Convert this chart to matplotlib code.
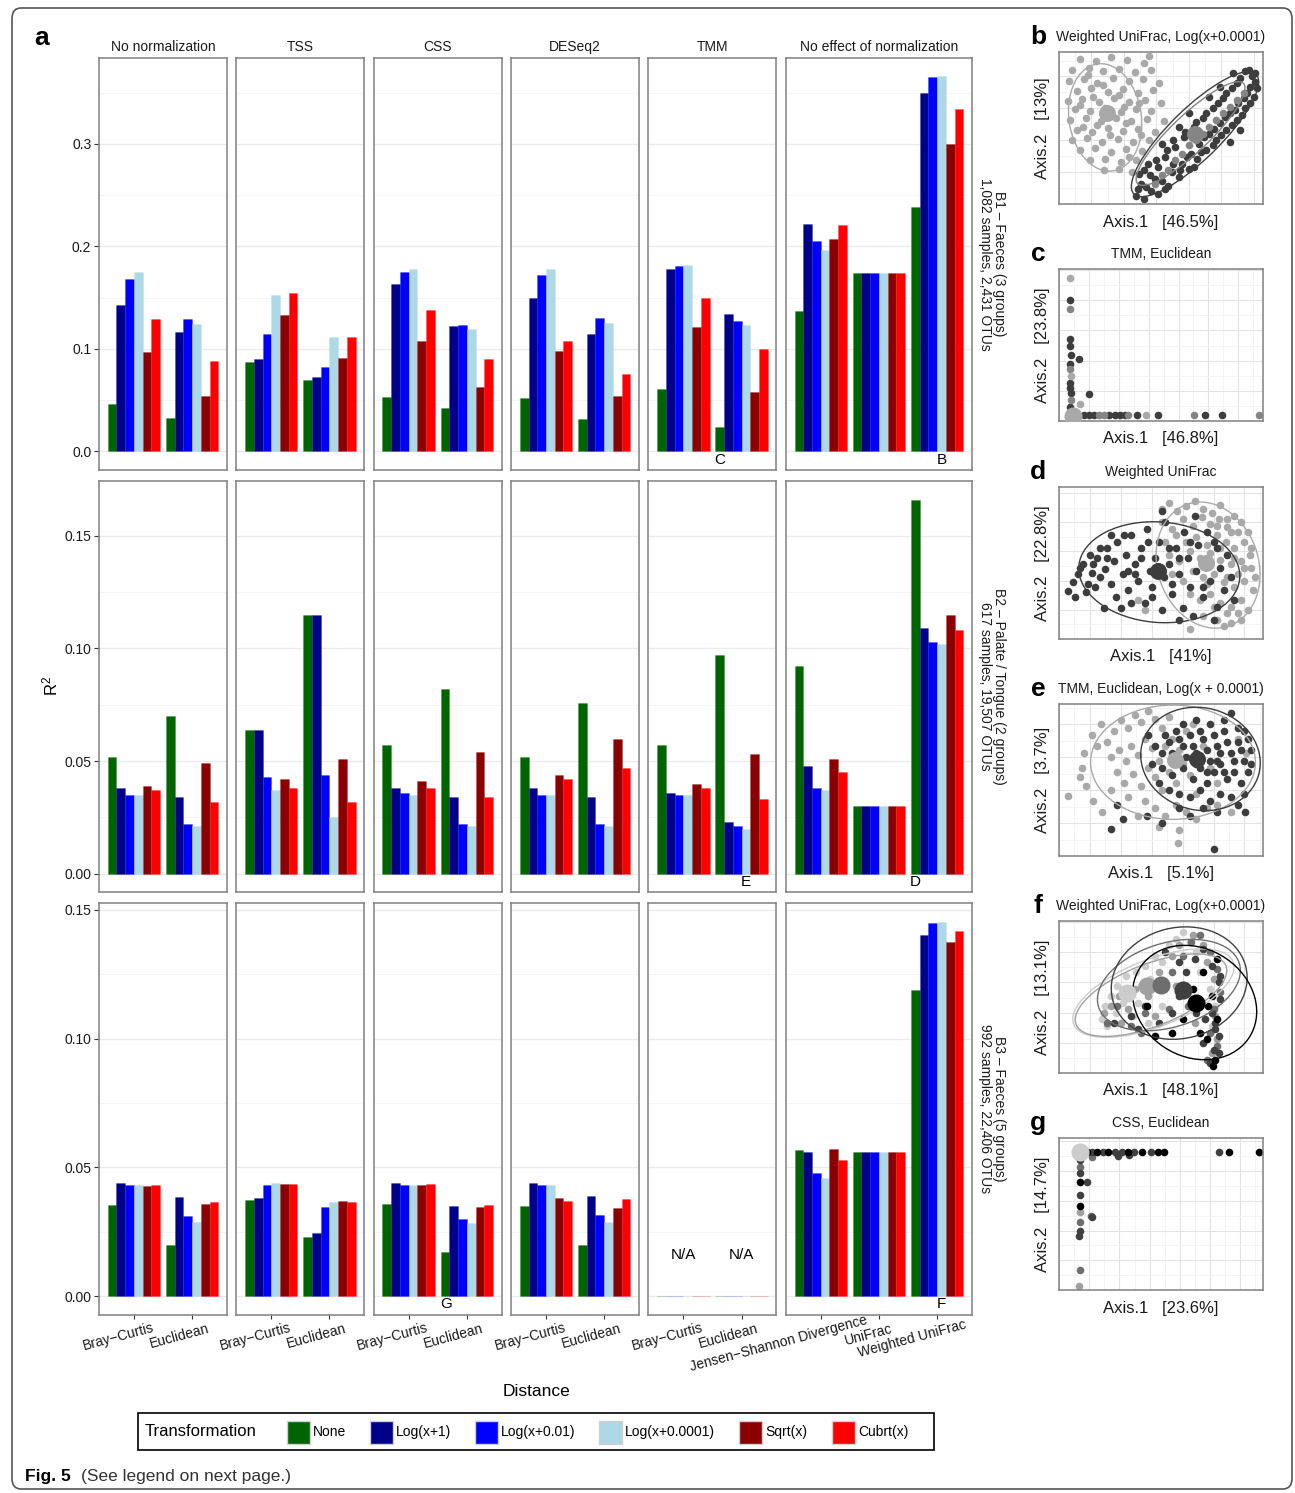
import numpy as np
import matplotlib
matplotlib.use('Agg')
import matplotlib.pyplot as plt
import matplotlib.colors as mcolors
import matplotlib.transforms as mtransforms
from matplotlib.patches import Ellipse, Rectangle, FancyBboxPatch
from matplotlib.ticker import FixedLocator, MultipleLocator

plt.rcParams['font.family'] = ['Liberation Sans', 'DejaVu Sans']
plt.rcParams['mathtext.default'] = 'regular'

W, H = 1295, 1493

# ---------------- data: panel a ----------------
transforms = ['None', 'Log(x+1)', 'Log(x+0.01)', 'Log(x+0.0001)', 'Sqrt(x)', 'Cubrt(x)']
trans_colors = ['#006400', '#00008b', '#0000ff', '#add8e6', '#8b0000', '#ff0000']
norm_names = ['No normalization', 'TSS', 'CSS', 'DESeq2', 'TMM', 'No effect of normalization']
dist_norm = ['Bray\u2212Curtis', 'Euclidean']
dist_fixed = ['Jensen\u2212Shannon Divergence', 'UniFrac', 'Weighted UniFrac']
row_labels = ['B1 \u2013 Faeces (3 groups)\n1,082 samples, 2,431 OTUs',
              'B2 \u2013 Palate / Tongue (2 groups)\n617 samples, 19,507 OTUs',
              'B3 \u2013 Faeces (5 groups)\n992 samples, 22,406 OTUs']

# one inner list per distance, values in transformation order
b1_none = [[0.046, 0.143, 0.168, 0.175, 0.097, 0.129], [0.032, 0.116, 0.129, 0.124, 0.054, 0.088]]
b1_tss = [[0.087, 0.090, 0.114, 0.153, 0.133, 0.154], [0.070, 0.072, 0.082, 0.112, 0.091, 0.112]]
b1_css = [[0.053, 0.163, 0.175, 0.178, 0.108, 0.138], [0.042, 0.122, 0.123, 0.119, 0.063, 0.090]]
b1_deseq = [[0.052, 0.150, 0.172, 0.178, 0.098, 0.108], [0.031, 0.114, 0.130, 0.125, 0.054, 0.075]]
b1_tmm = [[0.061, 0.178, 0.181, 0.182, 0.121, 0.150], [0.024, 0.134, 0.127, 0.123, 0.058, 0.100]]
b1_fixed = [[0.137, 0.222, 0.205, 0.196, 0.207, 0.221], [0.174, 0.174, 0.174, 0.174, 0.174, 0.174],
            [0.238, 0.350, 0.365, 0.366, 0.300, 0.334]]

b2_none = [[0.052, 0.038, 0.035, 0.035, 0.039, 0.037], [0.070, 0.034, 0.022, 0.021, 0.049, 0.032]]
b2_tss = [[0.064, 0.064, 0.043, 0.037, 0.042, 0.038], [0.115, 0.115, 0.044, 0.025, 0.051, 0.032]]
b2_css = [[0.057, 0.038, 0.036, 0.035, 0.041, 0.038], [0.082, 0.034, 0.022, 0.021, 0.054, 0.034]]
b2_deseq = [[0.052, 0.038, 0.035, 0.035, 0.044, 0.042], [0.076, 0.034, 0.022, 0.021, 0.060, 0.047]]
b2_tmm = [[0.057, 0.036, 0.035, 0.035, 0.040, 0.038], [0.097, 0.023, 0.021, 0.020, 0.053, 0.033]]
b2_fixed = [[0.092, 0.048, 0.038, 0.037, 0.051, 0.045], [0.030, 0.030, 0.030, 0.030, 0.030, 0.030],
            [0.166, 0.109, 0.103, 0.102, 0.115, 0.108]]

b3_none = [[0.0355, 0.0440, 0.0432, 0.0432, 0.0428, 0.0432], [0.0200, 0.0386, 0.0312, 0.0289, 0.0359, 0.0366]]
b3_tss = [[0.0374, 0.0382, 0.0432, 0.0440, 0.0436, 0.0436], [0.0231, 0.0246, 0.0347, 0.0366, 0.0370, 0.0366]]
b3_css = [[0.0359, 0.0440, 0.0432, 0.0432, 0.0432, 0.0436], [0.0173, 0.0351, 0.0300, 0.0285, 0.0347, 0.0355]]
b3_deseq = [[0.0351, 0.0440, 0.0432, 0.0432, 0.0382, 0.0370], [0.0200, 0.0389, 0.0316, 0.0289, 0.0343, 0.0378]]
b3_tmm = [[0, 0, 0, 0, 0, 0], [0, 0, 0, 0, 0, 0]]
b3_fixed = [[0.0567, 0.0560, 0.0478, 0.0459, 0.0571, 0.0529], [0.0560, 0.0560, 0.0560, 0.0560, 0.0560, 0.0560],
            [0.1190, 0.1403, 0.1450, 0.1453, 0.1376, 0.1419]]

rows = [[b1_none, b1_tss, b1_css, b1_deseq, b1_tmm, b1_fixed],
        [b2_none, b2_tss, b2_css, b2_deseq, b2_tmm, b2_fixed],
        [b3_none, b3_tss, b3_css, b3_deseq, b3_tmm, b3_fixed]]

# letters marking the example ordinations: (row, column, x position, letter)
marks = [(0, 4, 1.63, 'C'), (0, 5, 3.08, 'B'), (1, 4, 2.08, 'E'), (1, 5, 2.62, 'D'),
         (2, 2, 1.64, 'G'), (2, 5, 3.08, 'F')]

# ---------------- data: ordination panels (positions in panel units) ----------------
grey3 = ['#a9a9a9', '#858585', '#3d3d3d']
grey5 = ['#cccccc', '#a0a0a0', '#6e6e6e', '#404040', '#000000']

b_light = [(62, 432), (108, 425), (152, 438), (198, 428), (250, 420), (262, 442),
           (38, 398), (88, 405), (128, 395), (176, 402), (222, 392), (268, 400),
           (28, 368), (72, 372), (112, 362), (158, 375), (204, 366), (246, 372), (292, 360),
           (52, 338), (94, 345), (142, 335), (186, 342), (232, 332), (276, 340),
           (26, 308), (68, 312), (118, 304), (162, 315), (206, 305), (252, 310), (298, 300),
           (46, 282), (92, 276), (136, 285), (182, 274), (226, 284), (270, 278),
           (32, 250), (78, 255), (122, 246), (166, 256), (212, 248), (258, 252), (306, 246),
           (52, 222), (96, 216), (142, 226), (186, 218), (232, 224), (282, 216),
           (38, 190), (82, 196), (126, 186), (172, 194), (216, 186), (262, 192),
           (62, 160), (106, 166), (152, 156), (196, 164), (242, 158),
           (92, 130), (136, 134), (182, 126), (226, 132), (132, 100), (176, 104), (214, 96),
           (85, 385), (130, 355), (175, 325), (110, 235), (150, 205), (195, 240), (235, 300),
           (60, 295), (100, 318), (140, 262), (190, 290), (240, 205), (70, 230), (205, 140)]
b_mid = [(280, 60), (320, 100), (360, 150), (400, 190), (440, 230), (480, 270), (520, 310),
         (420, 210), (380, 175), (460, 250), (340, 130), (500, 290), (300, 85), (540, 330)]
b_dark = [(225, 25), (250, 15), (270, 40), (240, 60), (290, 30), (300, 70), (265, 85), (320, 55),
          (330, 95), (290, 110), (350, 80), (360, 120), (310, 140), (380, 105), (385, 150), (340, 170),
          (405, 135), (410, 180), (365, 200), (430, 160), (440, 210), (395, 230), (460, 190), (470, 240),
          (420, 255), (490, 220), (500, 270), (450, 285), (520, 250), (525, 300), (480, 315), (545, 285),
          (550, 330), (505, 345), (570, 320), (575, 365), (530, 375), (580, 345), (575, 390), (555, 400),
          (510, 390), (470, 350), (440, 320), (380, 270), (350, 230), (300, 180), (260, 120), (235, 90),
          (500, 185), (530, 220), (565, 380), (545, 395), (255, 50), (280, 75), (310, 45), (335, 120),
          (355, 100), (375, 140), (395, 110), (415, 155), (425, 200), (450, 175), (455, 225), (475, 205),
          (485, 260), (505, 235), (515, 280), (535, 265), (540, 315), (560, 300), (560, 350), (520, 360),
          (490, 330), (465, 300), (430, 270), (400, 245), (370, 215), (335, 190), (315, 160), (285, 130),
          (250, 100), (230, 45)]

c_light = [(32, 412), (34, 130), (62, 50), (252, 17)]
c_mid = [(33, 323), (31, 150), (34, 60), (117, 17), (132, 17), (202, 17), (392, 17), (582, 17)]
c_dark = [(32, 350), (33, 237), (31, 215), (34, 190), (32, 165), (33, 110), (31, 95), (34, 80), (32, 40),
          (57, 180), (87, 77), (72, 17), (87, 17), (102, 17), (147, 17), (162, 17), (177, 17), (192, 17),
          (227, 17), (287, 17), (425, 17), (474, 17)]

d_light = [(300, 400), (320, 420), (345, 395), (370, 410), (395, 425), (420, 400), (445, 390), (470, 415),
           (300, 360), (330, 340), (360, 370), (390, 350), (415, 375), (440, 355), (465, 370), (490, 345),
           (510, 380), (520, 330), (310, 300), (340, 320), (370, 300), (400, 315), (430, 290), (460, 320),
           (485, 300), (510, 280), (540, 300), (555, 260), (320, 260), (350, 240), (380, 270), (410, 250),
           (440, 265), (470, 245), (500, 230), (530, 240), (560, 220), (570, 190), (330, 200), (360, 180),
           (390, 210), (420, 190), (450, 200), (480, 175), (510, 160), (540, 180), (565, 150), (380, 140),
           (410, 120), (440, 140), (470, 110), (500, 100), (530, 120), (550, 90), (420, 70), (460, 60),
           (500, 50), (520, 80), (380, 30), (480, 40), (230, 120), (250, 90), (470, 280), (500, 330),
           (530, 360), (550, 330), (490, 370), (460, 350), (540, 220), (520, 200), (490, 190), (510, 250),
           (560, 280), (430, 170), (450, 100), (490, 80), (530, 60)]
d_dark = [(27, 148), (40, 175), (55, 200), (48, 130), (70, 230), (85, 170), (95, 205), (78, 145),
          (110, 250), (120, 190), (105, 160), (135, 215), (140, 280), (150, 170), (160, 240), (170, 300),
          (165, 130), (185, 200), (195, 260), (200, 150), (210, 320), (220, 230), (230, 180), (240, 280),
          (250, 110), (255, 340), (265, 210), (270, 160), (280, 250), (290, 300), (300, 90), (305, 190),
          (310, 360), (320, 230), (330, 140), (340, 280), (350, 200), (360, 95), (365, 330), (375, 250),
          (380, 160), (390, 70), (400, 210), (405, 290), (420, 130), (430, 240), (440, 180), (450, 300),
          (460, 100), (470, 220), (480, 150), (490, 260), (500, 190), (510, 120), (395, 380), (300, 395),
          (180, 95), (130, 95), (350, 60), (450, 60), (200, 210), (240, 250), (320, 280), (260, 300),
          (190, 320), (150, 320), (120, 280), (90, 260), (60, 220), (100, 230), (140, 250), (220, 200),
          (350, 250), (380, 300), (430, 330), (460, 280), (330, 170), (270, 130), (210, 110), (420, 160)]

e_light = [(27, 165), (67, 240), (72, 280), (62, 215), (122, 360), (95, 330), (110, 300), (140, 310),
           (160, 340), (180, 370), (200, 350), (220, 385), (240, 365), (260, 395), (280, 375), (300, 350),
           (320, 380), (150, 270), (175, 290), (195, 260), (210, 300), (230, 275), (250, 320), (270, 295),
           (290, 260), (310, 300), (330, 320), (350, 290), (370, 340), (390, 360), (170, 230), (190, 200),
           (215, 225), (240, 190), (260, 240), (280, 215), (300, 180), (320, 230), (340, 200), (360, 250),
           (380, 220), (400, 170), (420, 300), (440, 240), (460, 200), (250, 150), (280, 130), (310, 110),
           (340, 140), (370, 120), (400, 100), (430, 130), (200, 160), (230, 110), (290, 80), (350, 70),
           (460, 140), (500, 120), (520, 320), (545, 280), (150, 180), (125, 120), (100, 150), (80, 190),
           (347, 35)]
e_dark = [(260, 330), (280, 300), (300, 280), (320, 310), (340, 260), (360, 300), (380, 330), (400, 280),
          (420, 320), (440, 260), (460, 300), (480, 340), (500, 280), (520, 310), (540, 260), (300, 240),
          (330, 220), (360, 240), (390, 210), (410, 240), (430, 200), (450, 230), (470, 250), (490, 210),
          (510, 230), (530, 200), (550, 230), (560, 290), (320, 180), (350, 170), (380, 160), (410, 180),
          (440, 150), (470, 170), (500, 160), (520, 140), (540, 170), (360, 360), (400, 370), (440, 360),
          (480, 370), (520, 350), (500, 390), (290, 200), (270, 250), (420, 130), (460, 120), (152, 75),
          (187, 100), (255, 110), (300, 90), (452, 20), (542, 120), (350, 130), (380, 110), (170, 140),
          (330, 280), (350, 320), (370, 270), (390, 300), (410, 340), (430, 290), (450, 330), (470, 280),
          (490, 310), (510, 260), (530, 290), (550, 320), (430, 230), (460, 260), (480, 230), (400, 250),
          (340, 340), (310, 330), (560, 250), (540, 340)]

f_g1 = [(125, 160), (135, 200), (150, 230), (165, 180), (170, 260), (185, 210), (195, 290), (205, 240),
        (215, 170), (225, 300), (240, 260), (250, 320), (265, 280), (280, 350), (300, 330), (320, 380),
        (340, 400), (360, 420), (380, 390), (400, 360), (410, 300), (440, 250), (455, 200), (445, 140),
        (300, 200), (260, 150), (140, 140), (230, 210)]
f_g2 = [(130, 180), (150, 200), (175, 230), (200, 190), (220, 250), (260, 230), (290, 300), (330, 350),
        (350, 380), (390, 410), (420, 380), (430, 330), (450, 280), (455, 170), (460, 100), (445, 60),
        (395, 150), (340, 260), (180, 150), (280, 170)]
f_g3 = [(140, 150), (170, 200), (210, 140), (250, 180), (300, 250), (330, 300), (360, 350), (385, 390),
        (410, 410), (440, 360), (460, 310), (470, 240), (450, 190), (440, 120), (460, 80), (430, 40),
        (375, 200), (320, 190), (240, 120)]
f_g4 = [(160, 150), (210, 170), (250, 200), (290, 150), (330, 180), (350, 230), (370, 300), (395, 340),
        (420, 370), (445, 320), (465, 270), (470, 220), (455, 150), (465, 110), (450, 70), (440, 30),
        (420, 90), (400, 180), (230, 130), (445, 180), (455, 130), (465, 60), (425, 160), (470, 290),
        (350, 330), (310, 360)]
f_g5 = [(255, 200), (280, 110), (330, 120), (360, 160), (390, 250), (420, 300), (445, 230), (460, 160),
        (430, 100), (455, 40), (250, 250), (435, 200), (448, 20), (410, 120), (460, 340)]

g_g2 = [(62, 230), (57, 13)]
g_g3 = [(95, 395), (62, 365), (92, 220), (62, 60), (62, 200), (70, 410)]
g_g4 = [(97, 410), (127, 410), (162, 410), (182, 410), (217, 410), (267, 410), (467, 410), (172, 398),
        (204, 400), (62, 385), (62, 345), (82, 320), (60, 280), (97, 215), (62, 175), (58, 160)]
g_g5 = [(82, 410), (112, 410), (142, 410), (202, 410), (242, 410), (287, 410), (307, 410), (494, 410),
        (582, 410), (62, 320), (62, 250)]


def px_rect(x0, y0, x1, y1):
    return [x0 / W, 1 - y1 / H, (x1 - x0) / W, (y1 - y0) / H]


fig = plt.figure(figsize=(W / 100, H / 100), dpi=100)

# ---------------- panel a ----------------
gs = fig.add_gridspec(3, 6, left=99 / W, right=972 / W, top=1 - 58 / H, bottom=1 - 1315 / H,
                      width_ratios=[2.2] * 5 + [3.2], wspace=0.068, hspace=0.0255)
row_ylim = [(-0.0183, 0.3839), (-0.0083, 0.1745), (-0.0073, 0.1526)]
row_major = [[0, 0.1, 0.2, 0.3], [0, 0.05, 0.10, 0.15], [0, 0.05, 0.10, 0.15]]
row_minor = [[0.05, 0.15, 0.25, 0.35], [0.025, 0.075, 0.125], [0.025, 0.075, 0.125]]
row_fmt = ['{:.1f}', '{:.2f}', '{:.2f}']
mark_y = [-0.0085, -0.0035, -0.0032]
bw = 0.15
xlabels = []
axes = {}
for r in range(3):
    for c in range(6):
        ax = fig.add_subplot(gs[r, c])
        axes[(r, c)] = ax
        data = rows[r][c]
        cats = dist_fixed if c == 5 else dist_norm
        xpos = np.arange(1, len(cats) + 1)
        for t in range(6):
            vals = [data[k][t] for k in range(len(cats))]
            ax.bar(xpos + (t - 2.5) * bw, vals, width=bw, color=trans_colors[t],
                   edgecolor=mcolors.to_rgba(trans_colors[t], 0.35), linewidth=0.4, zorder=2)
        ax.set_xlim(0.4, len(cats) + 0.6)
        ax.set_ylim(*row_ylim[r])
        ax.yaxis.set_major_locator(FixedLocator(row_major[r]))
        ax.yaxis.set_minor_locator(FixedLocator(row_minor[r]))
        ax.grid(which='major', axis='y', color='#ebebeb', lw=1.0, zorder=0)
        ax.grid(which='minor', axis='y', color='#f5f5f5', lw=0.7, zorder=0)
        ax.set_axisbelow(True)
        for sp in ax.spines.values():
            sp.set_color('#808080')
            sp.set_linewidth(1.1)
        ax.tick_params(axis='y', which='minor', length=0)
        if c == 0:
            ax.set_yticklabels([row_fmt[r].format(v) for v in row_major[r]])
            ax.tick_params(axis='y', which='major', labelsize=10, length=3.5, width=0.8,
                           color='#333333', pad=2, labelcolor='#1a1a1a')
        else:
            ax.tick_params(axis='y', which='major', length=0, labelleft=False)
        ax.set_xticks(xpos)
        ax.set_xticklabels([])
        ax.tick_params(axis='x', length=3 if r == 2 else 0, width=0.8, color='#333333')
        if r == 0:
            ax.set_title(norm_names[c], fontsize=10, pad=5, color='#1a1a1a')
        if c == 5:
            ax.text(1.107, 0.5, row_labels[r], transform=ax.transAxes, rotation=-90,
                    ha='center', va='center', fontsize=10, color='#1a1a1a', linespacing=1.0)
        if r == 2:
            tr = mtransforms.blended_transform_factory(ax.transData, ax.transAxes) + \
                mtransforms.ScaledTranslation(0, -0.10, fig.dpi_scale_trans)
            for x, lab in zip(xpos, cats):
                xlabels.append(ax.text(x, 0, lab, transform=tr, rotation=15, rotation_mode='anchor',
                                       ha='right', va='top', fontsize=10, color='#1a1a1a'))
        if r == 2 and c == 4:
            for x in xpos:
                ax.text(x, 0.016, 'N/A', ha='center', va='center', fontsize=11)

for r, c, x, lab in marks:
    axes[(r, c)].text(x, mark_y[r], lab, ha='center', va='center', fontsize=11)

fig.text(50 / W, 1 - 686 / H, 'R$^2$', rotation=90, fontsize=12, ha='center', va='center')
fig.text(536 / W, 1 - 1392 / H, 'Distance', fontsize=12.5, ha='center', va='center')
fig.text(42 / W, 1 - 38 / H, 'a', fontsize=19, fontweight='bold', ha='center', va='center')


# ---------------- panels b-g ----------------
def pcoa(top, letter, title, xlab, ylab, groups, ellipses, cents, xmax, ymax, grid_step):
    ax = fig.add_axes(px_rect(1059, top, 1263, top + 152))
    for pts, col in groups:
        arr = np.array(pts).T
        ax.scatter(arr[0], arr[1], s=30, color=col, linewidths=0, zorder=2)
    for cx, cy, w, h, ang, col in ellipses:
        ax.add_patch(Ellipse((cx, cy), w, h, angle=ang, fill=False, ec=col, lw=1.0, zorder=3))
    for cx, cy, col, size in cents:
        ax.scatter([cx], [cy], s=size, color=col, linewidths=0, zorder=4)
    ax.set_xlim(0, xmax)
    ax.set_ylim(0, ymax)
    ax.xaxis.set_major_locator(MultipleLocator(grid_step))
    ax.yaxis.set_major_locator(MultipleLocator(grid_step))
    ax.xaxis.set_minor_locator(MultipleLocator(grid_step / 2))
    ax.yaxis.set_minor_locator(MultipleLocator(grid_step / 2))
    ax.grid(which='major', color='#e3e3e3', lw=0.8, zorder=0)
    ax.grid(which='minor', color='#f2f2f2', lw=0.6, zorder=0)
    ax.set_axisbelow(True)
    ax.tick_params(which='both', length=0, labelbottom=False, labelleft=False)
    for sp in ax.spines.values():
        sp.set_color('#808080')
        sp.set_linewidth(1.1)
    fig.text(1161 / W, 1 - (top - 15) / H, title, fontsize=10, ha='center', va='center', color='#1a1a1a')
    fig.text(1038 / W, 1 - (top - 15) / H, letter, fontsize=19, fontweight='bold', ha='center', va='center')
    fig.text(1161 / W, 1 - (top + 170) / H, xlab, fontsize=12, ha='center', va='center', color='#1a1a1a')
    fig.text(1042 / W, 1 - (top + 76) / H, ylab, fontsize=12, rotation=90, ha='center', va='center',
             color='#1a1a1a')


pcoa(52, 'b', 'Weighted UniFrac, Log(x+0.0001)', 'Axis.1   [46.5%]', 'Axis.2   [13%]',
     [(b_light, grey3[0]), (b_dark, grey3[2]), (b_mid, grey3[1])],
     [(135, 258, 212, 322, 8, grey3[0]), (385, 210, 430, 110, 44, grey3[1]),
      (398, 208, 505, 150, 45, grey3[2])],
     [(140, 270, grey3[0], 150), (397, 208, grey3[1], 150)], 597, 453, 95)
pcoa(269, 'c', 'TMM, Euclidean', 'Axis.1   [46.8%]', 'Axis.2   [23.8%]',
     [(c_dark, grey3[2]), (c_mid, grey3[1]), (c_light, grey3[0])], [],
     [(42, 15, grey3[0], 170)], 594, 438, 87)
pcoa(487, 'd', 'Weighted UniFrac', 'Axis.1   [41%]', 'Axis.2   [22.8%]',
     [(d_light, grey3[0]), (d_dark, grey3[2])],
     [(292, 206, 470, 310, -5, grey3[2]), (434, 228, 295, 395, 15, grey3[0])],
     [(287, 211, grey3[2], 150), (427, 236, grey3[0], 150)], 594, 469, 90)
pcoa(704, 'e', 'TMM, Euclidean, Log(x + 0.0001)', 'Axis.1   [5.1%]', 'Axis.2   [3.7%]',
     [(e_light, grey3[0]), (e_dark, grey3[2])],
     [(332, 256, 480, 312, 0, grey3[0]), (412, 265, 350, 280, -10, grey3[2])],
     [(337, 262, grey3[0], 150), (402, 265, grey3[2], 150)], 594, 415, 90)
pcoa(921, 'f', 'Weighted UniFrac, Log(x+0.0001)', 'Axis.1   [48.1%]', 'Axis.2   [13.1%]',
     [(f_g1, grey5[0]), (f_g2, grey5[1]), (f_g3, grey5[2]), (f_g4, grey5[3]), (f_g5, grey5[4])],
     [(275, 238, 500, 200, 22, grey5[0]), (268, 232, 470, 185, 22, grey5[1]),
      (320, 262, 430, 250, 18, grey5[2]), (350, 268, 400, 330, 15, grey5[3]),
      (395, 210, 380, 320, -35, grey5[4])],
     [(197, 238, grey5[0], 170), (257, 258, grey5[1], 170), (297, 263, grey5[2], 170),
      (362, 248, grey5[3], 170), (400, 208, grey5[4], 170)], 594, 453, 90)
pcoa(1138, 'g', 'CSS, Euclidean', 'Axis.1   [23.6%]', 'Axis.2   [14.7%]',
     [(g_g2, grey5[1]), (g_g3, grey5[2]), (g_g4, grey5[3]), (g_g5, grey5[4])], [],
     [(62, 410, grey5[0], 170)], 594, 450, 88)

# ---------------- legend ----------------
legend_key_x = [287, 370, 475, 599, 739, 832]
fig.add_artist(Rectangle((138 / W, 1 - 1450 / H), (934 - 138) / W, 37 / H, transform=fig.transFigure,
                         fill=False, ec='black', lw=1.2))
fig.text(145 / W, 1 - 1432 / H, 'Transformation', fontsize=12, ha='left', va='center')
for kx, col, lab in zip(legend_key_x, trans_colors, transforms):
    fig.add_artist(Rectangle((kx / W, 1 - 1444 / H), 23 / W, 23 / H, transform=fig.transFigure,
                             fc=col, ec='#d0d0d0', lw=1.0))
    fig.text((kx + 26) / W, 1 - 1432 / H, lab, fontsize=10, ha='left', va='center')

fig.text(25 / W, 1 - 1477 / H, 'Fig. 5', fontsize=12.5, fontweight='bold', ha='left', va='center')
fig.text(81 / W, 1 - 1477 / H, '(See legend on next page.)', fontsize=12.5, ha='left', va='center',
         color='#333333')
fig.add_artist(FancyBboxPatch((12 / W, 1 - 1489 / H), 1280 / W, 1481 / H,
                              boxstyle='round,pad=0,rounding_size=0.007', transform=fig.transFigure,
                              fill=False, ec='#555555', lw=1.2))

# shift rotated distance labels so that ~3/4 of each label sits left of its tick
fig.canvas.draw()
renderer = fig.canvas.get_renderer()
th = np.deg2rad(15)
for t in xlabels:
    bb = t.get_window_extent(renderer)
    L = (bb.width * np.cos(th) - bb.height * np.sin(th)) / np.cos(2 * th)
    dx, dy = 0.25 * L * np.cos(th), 0.25 * L * np.sin(th)
    t.set_transform(t.get_transform() + mtransforms.ScaledTranslation(dx / 100, dy / 100, fig.dpi_scale_trans))

fig.savefig('out.png', dpi=100)
